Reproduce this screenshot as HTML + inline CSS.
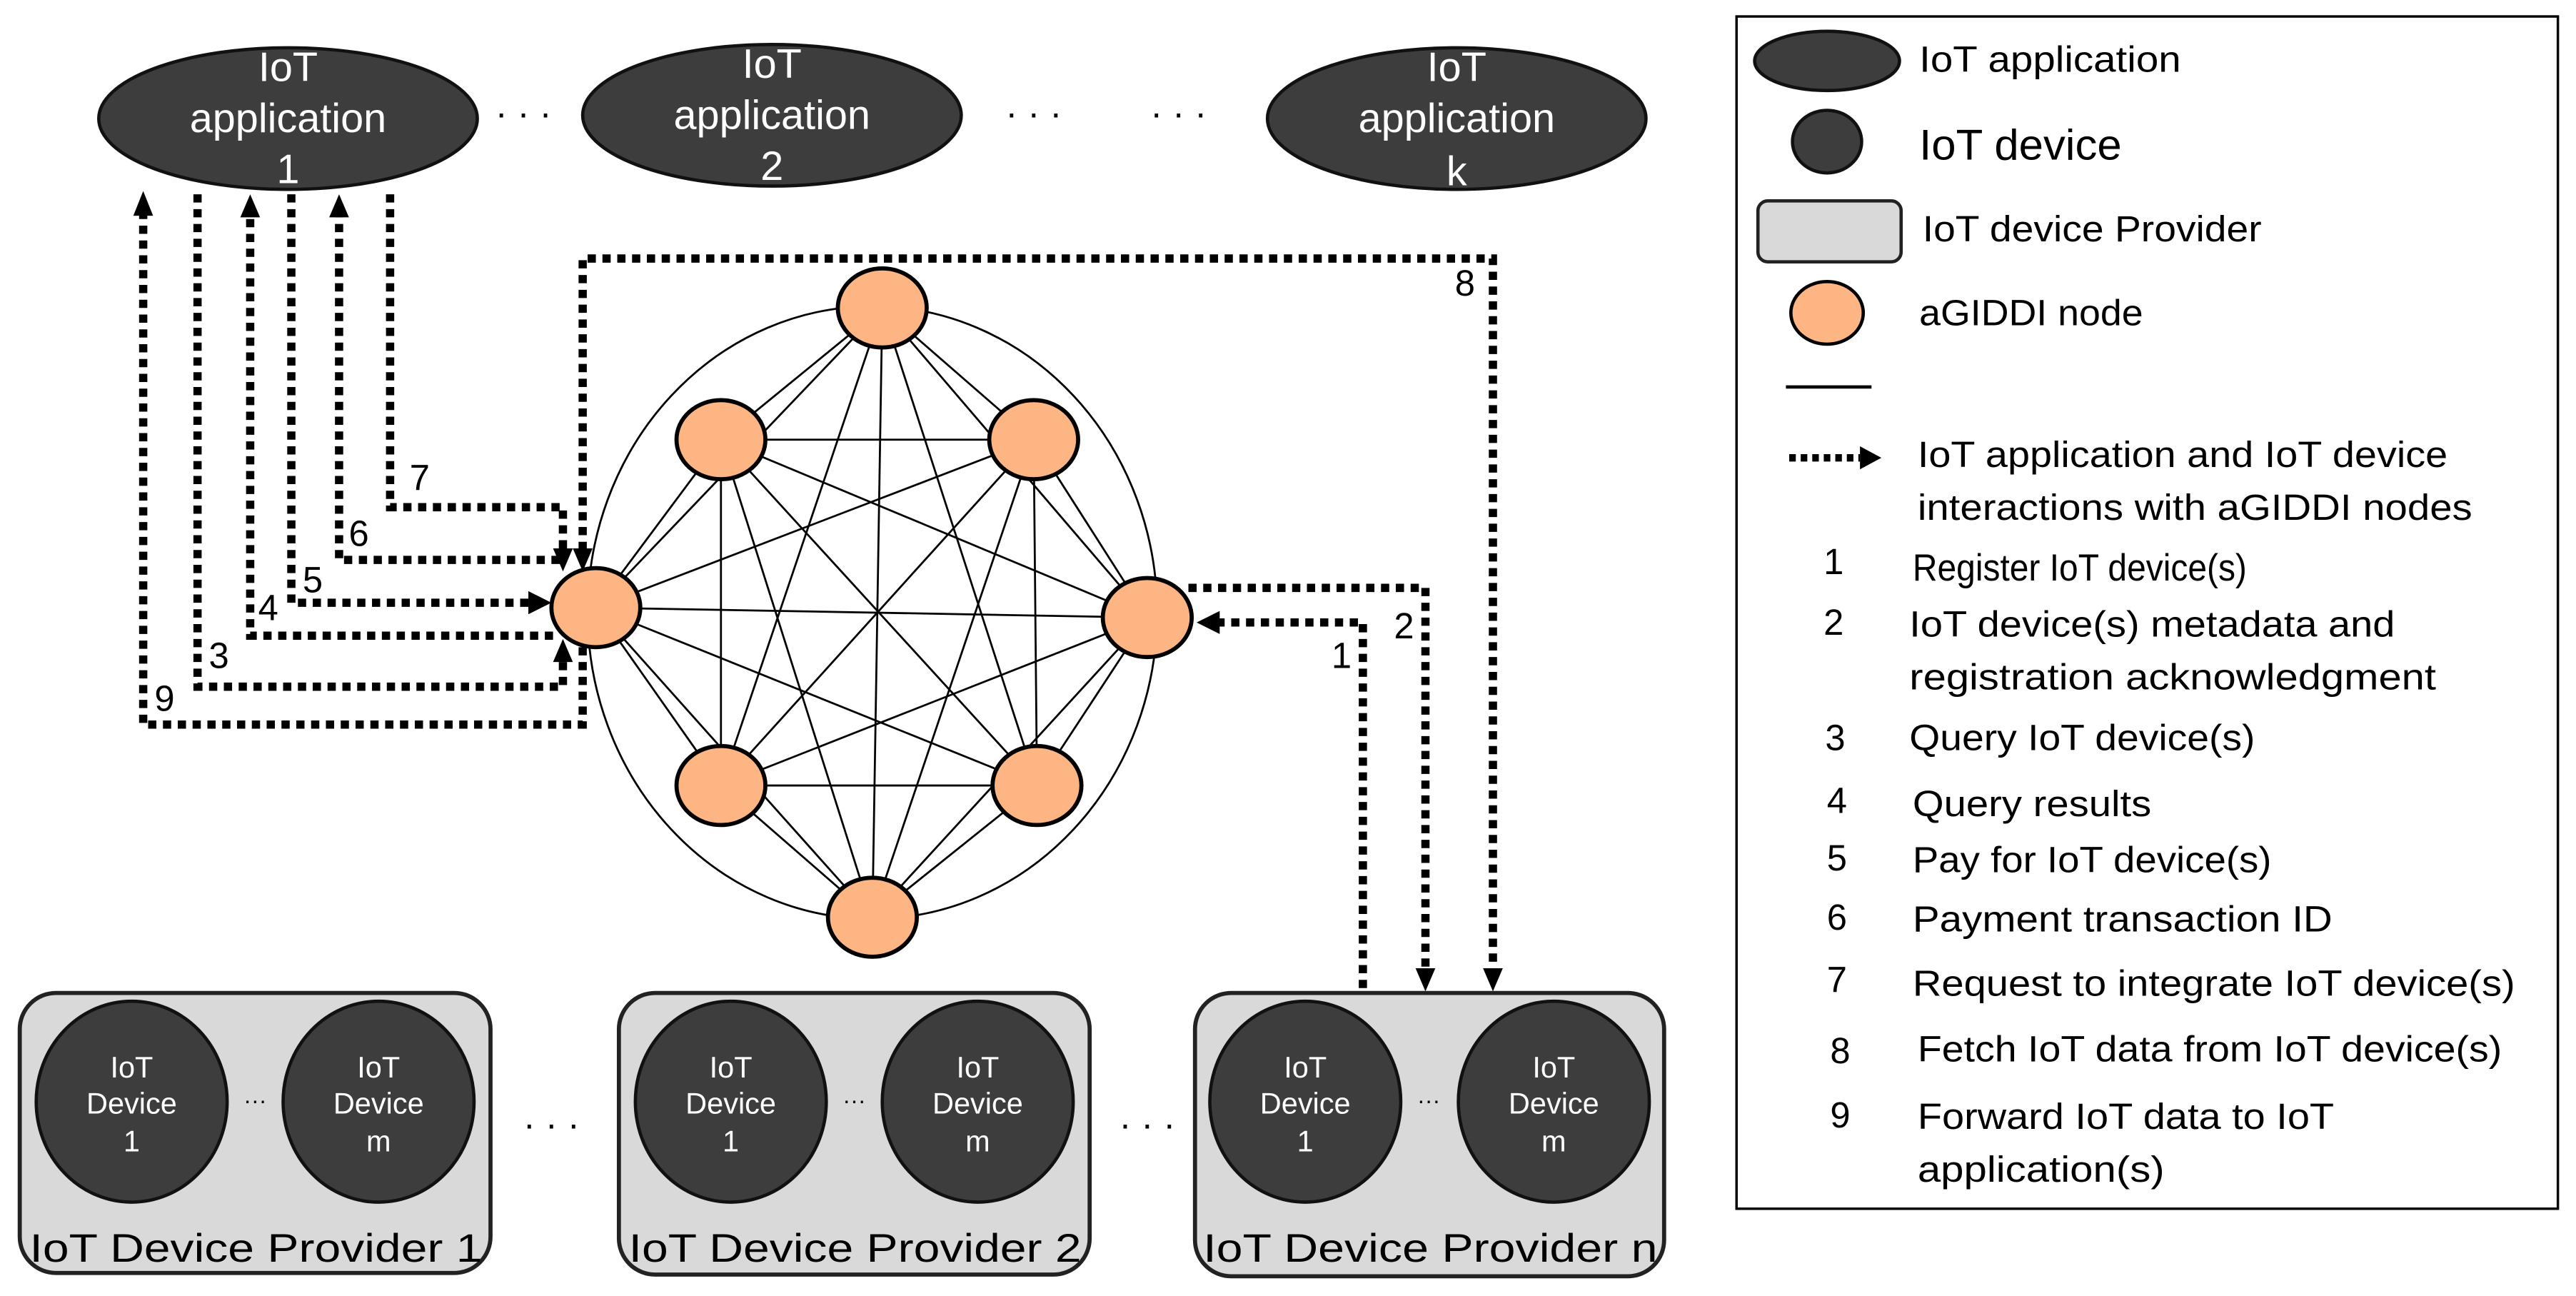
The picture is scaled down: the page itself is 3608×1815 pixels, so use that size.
<!DOCTYPE html>
<html><head><meta charset="utf-8"><style>html,body{margin:0;padding:0;background:#fff}svg{display:block}</style></head>
<body>
<svg width="3608" height="1815" viewBox="0 0 1565 787" preserveAspectRatio="none" xmlns="http://www.w3.org/2000/svg" font-family="Liberation Sans, sans-serif">
<g fill="#3d3d3d" stroke="#111" stroke-width="2">
<ellipse cx="175" cy="72" rx="115" ry="43"/>
<ellipse cx="469" cy="70" rx="115" ry="43"/>
<ellipse cx="885" cy="72" rx="115" ry="43"/>
</g>
<g fill="#fff" font-size="25" text-anchor="middle" dominant-baseline="central">
<text x="175" y="41">IoT</text><text x="175" y="72">application</text><text x="175" y="103">1</text>
<text x="469" y="39">IoT</text><text x="469" y="70">application</text><text x="469" y="101">2</text>
<text x="885" y="41">IoT</text><text x="885" y="72">application</text><text x="885" y="104">k</text>
</g>
<g fill="#000" font-size="22" text-anchor="middle">
<text x="318" y="76">· · ·</text><text x="628" y="76">· · ·</text><text x="716" y="76">· · ·</text>
</g>
<ellipse cx="530" cy="372" rx="173" ry="186" fill="none" stroke="#000" stroke-width="1.2"/>
<g stroke="#000" stroke-width="1.2">
<line x1="536" y1="187" x2="438" y2="267"/><line x1="536" y1="187" x2="628" y2="267"/><line x1="536" y1="187" x2="362" y2="369"/><line x1="536" y1="187" x2="697" y2="375"/><line x1="536" y1="187" x2="438" y2="477"/><line x1="536" y1="187" x2="630" y2="477"/><line x1="536" y1="187" x2="530" y2="557"/>
<line x1="438" y1="267" x2="628" y2="267"/><line x1="438" y1="267" x2="362" y2="369"/><line x1="438" y1="267" x2="697" y2="375"/><line x1="438" y1="267" x2="438" y2="477"/><line x1="438" y1="267" x2="630" y2="477"/><line x1="438" y1="267" x2="530" y2="557"/>
<line x1="628" y1="267" x2="362" y2="369"/><line x1="628" y1="267" x2="697" y2="375"/><line x1="628" y1="267" x2="438" y2="477"/><line x1="628" y1="267" x2="630" y2="477"/><line x1="628" y1="267" x2="530" y2="557"/>
<line x1="362" y1="369" x2="697" y2="375"/><line x1="362" y1="369" x2="438" y2="477"/><line x1="362" y1="369" x2="630" y2="477"/><line x1="362" y1="369" x2="530" y2="557"/>
<line x1="697" y1="375" x2="438" y2="477"/><line x1="697" y1="375" x2="630" y2="477"/><line x1="697" y1="375" x2="530" y2="557"/>
<line x1="438" y1="477" x2="630" y2="477"/><line x1="438" y1="477" x2="530" y2="557"/>
<line x1="630" y1="477" x2="530" y2="557"/>
</g>
<g fill="none" stroke="#000" stroke-width="5" stroke-dasharray="5 4">
<path d="M354,393 V440 H87 V130"/>
<path d="M120,118 V417 H342 V400"/>
<path d="M336,386 H152 V131"/>
<path d="M177,118 V366 H322"/>
<path d="M340,340 H206 V131"/>
<path d="M237,118 V308 H342 V334"/>
<path d="M354,334 V157 H907 V589"/>
<path d="M722,357 H866 V589"/>
<path d="M828,600 V378 H740"/>
</g>
<g fill="#000">
<polygon points="87,116 81,131 93,131"/>
<polygon points="152,118 146,132 158,132"/>
<polygon points="206,118 200,132 212,132"/>
<polygon points="335,366 321,359 321,373"/>
<polygon points="342,347 336,333 348,333"/>
<polygon points="354,347 348,333 360,333"/>
<polygon points="342,388 336,402 348,402"/>
<polygon points="727,378 741,371 741,385"/>
<polygon points="866,602 860,588 872,588"/>
<polygon points="907,602 901,588 913,588"/>
</g>
<g fill="#fdb583" stroke="#000" stroke-width="2.5">
<ellipse cx="536" cy="187" rx="27" ry="24"/>
<ellipse cx="438" cy="267" rx="27" ry="24"/>
<ellipse cx="628" cy="267" rx="27" ry="24"/>
<ellipse cx="362" cy="369" rx="27" ry="24"/>
<ellipse cx="697" cy="375" rx="27" ry="24"/>
<ellipse cx="438" cy="477" rx="27" ry="24"/>
<ellipse cx="630" cy="477" rx="27" ry="24"/>
<ellipse cx="530" cy="557" rx="27" ry="24"/>
</g>
<g font-size="22" fill="#000" dominant-baseline="central" text-anchor="middle">
<text x="890" y="172">8</text><text x="255" y="290">7</text><text x="218" y="324">6</text><text x="190" y="352">5</text>
<text x="163" y="369">4</text><text x="133" y="398">3</text><text x="100" y="424">9</text><text x="853" y="380">2</text><text x="815" y="398">1</text>
</g>
<g fill="#d9d9d9" stroke="#222" stroke-width="2.5">
<rect x="12" y="603" width="286" height="170" rx="22"/>
<rect x="376" y="603" width="286" height="171" rx="22"/>
<rect x="726" y="603" width="285" height="172" rx="22"/>
</g>
<g fill="#3d3d3d" stroke="#111" stroke-width="2">
<ellipse cx="80" cy="669" rx="58" ry="61"/><ellipse cx="230" cy="669" rx="58" ry="61"/>
<ellipse cx="444" cy="669" rx="58" ry="61"/><ellipse cx="594" cy="669" rx="58" ry="61"/>
<ellipse cx="793" cy="669" rx="58" ry="61"/><ellipse cx="944" cy="669" rx="58" ry="61"/>
</g>
<g fill="#fff" font-size="18" text-anchor="middle" dominant-baseline="central">
<text x="80" y="648">IoT</text><text x="80" y="670">Device</text><text x="80" y="693">1</text>
<text x="230" y="648">IoT</text><text x="230" y="670">Device</text><text x="230" y="693">m</text>
<text x="444" y="648">IoT</text><text x="444" y="670">Device</text><text x="444" y="693">1</text>
<text x="594" y="648">IoT</text><text x="594" y="670">Device</text><text x="594" y="693">m</text>
<text x="793" y="648">IoT</text><text x="793" y="670">Device</text><text x="793" y="693">1</text>
<text x="944" y="648">IoT</text><text x="944" y="670">Device</text><text x="944" y="693">m</text>
</g>
<g fill="#000" text-anchor="middle">
<text x="155" y="673" font-size="14">···</text><text x="519" y="673" font-size="14">···</text><text x="868" y="673" font-size="14">···</text>
<text x="335" y="690" font-size="22">· · ·</text><text x="697" y="690" font-size="22">· · ·</text>
</g>
<g fill="#000" font-size="24" dominant-baseline="central">
<text x="18" y="758" textLength="275" lengthAdjust="spacingAndGlyphs">IoT Device Provider 1</text>
<text x="382" y="758" textLength="275" lengthAdjust="spacingAndGlyphs">IoT Device Provider 2</text>
<text x="731" y="758" textLength="276" lengthAdjust="spacingAndGlyphs">IoT Device Provider n</text>
</g>
<rect x="1055" y="10" width="499" height="724" fill="none" stroke="#000" stroke-width="1.5"/>
<ellipse cx="1110" cy="37" rx="44" ry="18" fill="#3d3d3d" stroke="#111" stroke-width="2"/>
<ellipse cx="1110" cy="86" rx="21" ry="19" fill="#3d3d3d" stroke="#111" stroke-width="2"/>
<rect x="1068" y="122" width="87" height="37" rx="6" fill="#d9d9d9" stroke="#222" stroke-width="2"/>
<ellipse cx="1110" cy="190" rx="22" ry="19" fill="#fdb583" stroke="#000" stroke-width="2"/>
<line x1="1085" y1="235" x2="1137" y2="235" stroke="#000" stroke-width="2"/>
<line x1="1087" y1="278" x2="1130" y2="278" stroke="#000" stroke-width="4.5" stroke-dasharray="4 3"/>
<polygon points="1143,278 1130,271 1130,285" fill="#000"/>
<g fill="#000" font-size="22" dominant-baseline="central">
<text x="1166" y="36" textLength="159" lengthAdjust="spacingAndGlyphs">IoT application</text>
<text x="1166" y="88" font-size="26" textLength="123" lengthAdjust="spacingAndGlyphs">IoT device</text>
<text x="1168" y="139" textLength="206" lengthAdjust="spacingAndGlyphs">IoT device Provider</text>
<text x="1166" y="190" textLength="136" lengthAdjust="spacingAndGlyphs">aGIDDI node</text>
<text x="1165" y="276" textLength="322" lengthAdjust="spacingAndGlyphs">IoT application and IoT device</text>
<text x="1165" y="308" textLength="337" lengthAdjust="spacingAndGlyphs">interactions with aGIDDI nodes</text>
<text x="1162" y="345" font-size="23" textLength="203" lengthAdjust="spacingAndGlyphs">Register IoT device(s)</text>
<text x="1160" y="379" textLength="295" lengthAdjust="spacingAndGlyphs">IoT device(s) metadata and</text>
<text x="1160" y="411" textLength="320" lengthAdjust="spacingAndGlyphs">registration acknowledgment</text>
<text x="1160" y="448" textLength="210" lengthAdjust="spacingAndGlyphs">Query IoT device(s)</text>
<text x="1162" y="488" textLength="145" lengthAdjust="spacingAndGlyphs">Query results</text>
<text x="1162" y="522" textLength="218" lengthAdjust="spacingAndGlyphs">Pay for IoT device(s)</text>
<text x="1162" y="558" textLength="255" lengthAdjust="spacingAndGlyphs">Payment transaction ID</text>
<text x="1162" y="597" textLength="366" lengthAdjust="spacingAndGlyphs">Request to integrate IoT device(s)</text>
<text x="1165" y="637" textLength="355" lengthAdjust="spacingAndGlyphs">Fetch IoT data from IoT device(s)</text>
<text x="1165" y="678" textLength="253" lengthAdjust="spacingAndGlyphs">Forward IoT data to IoT</text>
<text x="1165" y="710" textLength="150" lengthAdjust="spacingAndGlyphs">application(s)</text>
</g>
<g fill="#000" font-size="22" dominant-baseline="central" text-anchor="middle">
<text x="1114" y="341">1</text><text x="1114" y="378">2</text><text x="1115" y="448">3</text><text x="1116" y="486">4</text>
<text x="1116" y="521">5</text><text x="1116" y="557">6</text><text x="1116" y="595">7</text><text x="1118" y="638">8</text><text x="1118" y="677">9</text>
</g>
</svg>
</body></html>
